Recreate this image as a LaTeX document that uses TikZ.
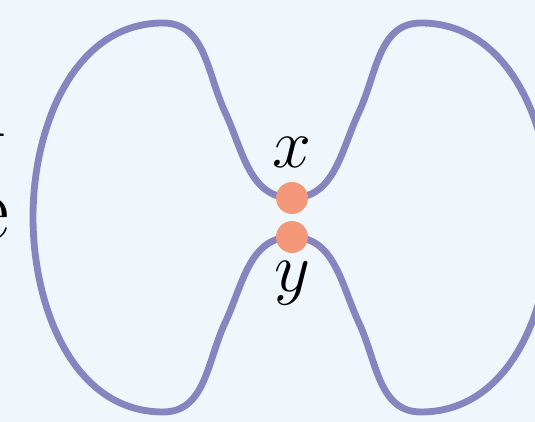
\documentclass[tikz,border=0pt]{standalone}
\usetikzlibrary{positioning}

\definecolor{bgblue}{RGB}{239,247,253}
\definecolor{looppurple}{RGB}{136,132,192}
\definecolor{dotsalmon}{RGB}{244,152,122}

\tikzset{
  loopline/.style={draw=looppurple, line width=3.9pt},
  vertex/.style={circle, fill=dotsalmon, minimum size=0.64cm, inner sep=0pt},
  vlabel/.style={inner sep=0pt, font=\Huge, scale=1.6},
  cuttext/.style={inner sep=0pt, font=\Huge, scale=2.13}
}

\begin{document}
\begin{tikzpicture}[x=0.02cm,y=0.02cm]
    \fill[bgblue] (0,0) rectangle (535,422);
    \useasboundingbox (0,0) rectangle (535,422);

    % text cut off at the left edge
    \node (t1) [cuttext, anchor=base east] at (8,285) {l};
    \node (t2) [cuttext, anchor=base east] at (10,182) {e};

    % the pinched loop
    \path[loopline]
    (292,224) to[out=180,in=295] (225,310)
    to[out=115,in=0] (163,399)
    to[out=180,in=90,looseness=0.98] (33,205)
    to[out=270,in=180,looseness=0.98] (163,10)
    to[out=0,in=245] (225,99)
    to[out=65,in=180] (292,185)
    to[out=0,in=115] (359,99)
    to[out=295,in=180] (421,10)
    to[out=0,in=270,looseness=0.98] (551,205)
    to[out=90,in=0,looseness=0.98] (421,399)
    to[out=180,in=65] (359,310)
    to[out=245,in=0] (292,224)
    ;

    \node (x) [vertex] at (292,224) {};
    \node (y) [vertex] at (292,185) {};
    \node (xl) [vlabel, above = 0.28cm, at=(x.north)] {$x$};
    \node (yl) [vlabel, below = 0.14cm, at=(y.south)] {$y$};
  \end{tikzpicture}
\end{document}
